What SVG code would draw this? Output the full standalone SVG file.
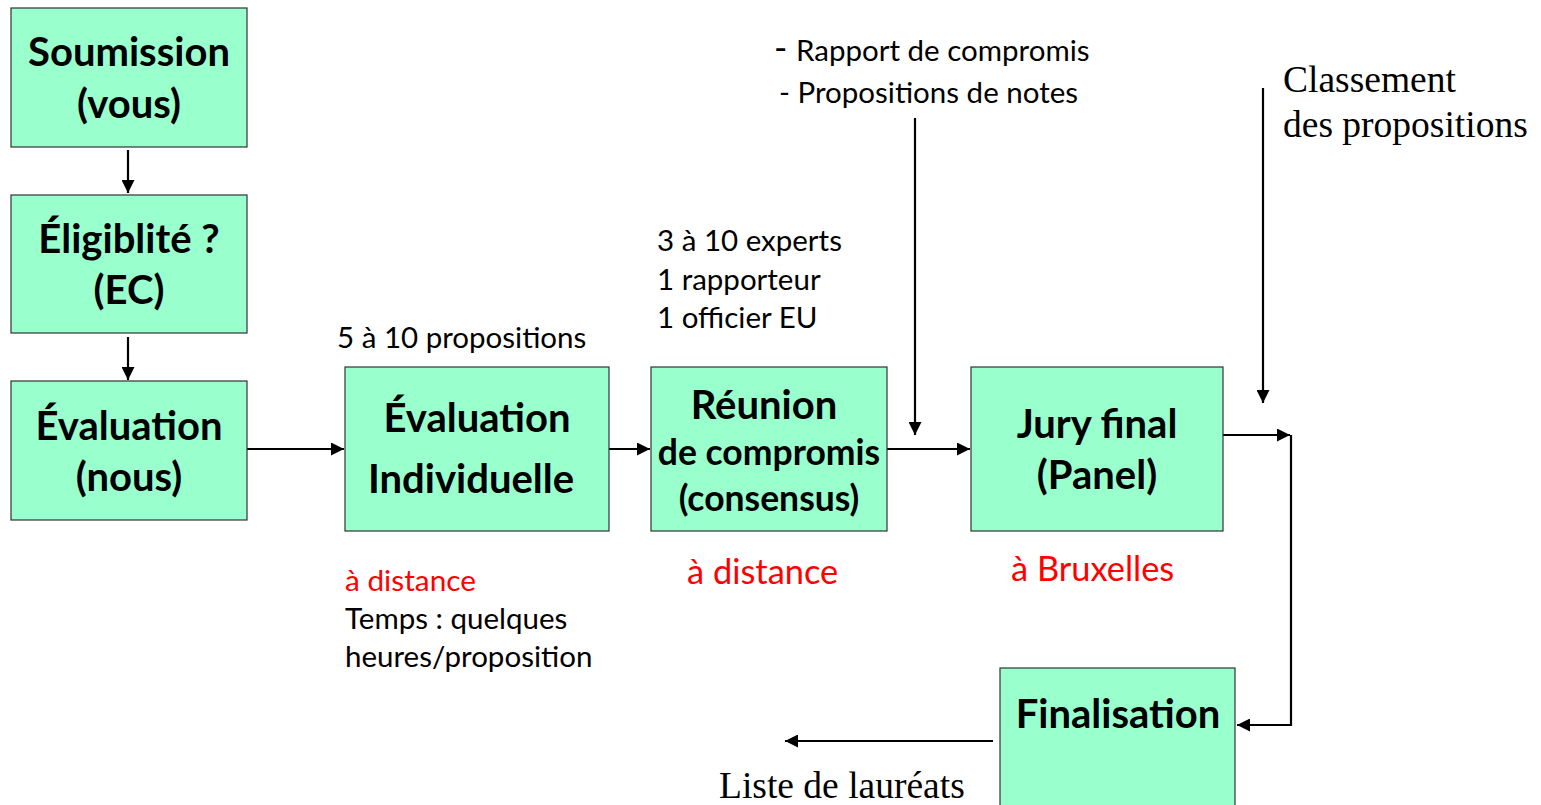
<svg xmlns="http://www.w3.org/2000/svg" width="1541" height="805" viewBox="0 0 1541 805">
<defs>
<style>
.box{fill:#99FFCC;stroke:#333;stroke-width:1.2}
.b{font-family:Lato,"Open Sans",sans-serif;font-weight:bold;fill:#000;text-anchor:middle}
.t{font-family:Lato,"Open Sans",sans-serif;fill:#000;font-size:29.5px}
.r{font-family:Lato,"Open Sans",sans-serif;fill:#FF0000}
.s{font-family:"Liberation Serif",serif;fill:#000;font-size:37.5px}
.c{stroke:#000;stroke-width:2.2;fill:none}
</style>
<marker id="ah" viewBox="0 0 10 10" refX="10" refY="5" markerWidth="13" markerHeight="13" markerUnits="userSpaceOnUse" orient="auto">
<path d="M0,0 L10,5 L0,10 z" fill="#000"/>
</marker>
</defs>
<rect width="1541" height="805" fill="#fff"/>

<g id="connectors">
<path class="c" d="M128,150 V193" marker-end="url(#ah)"/>
<path class="c" d="M128,337 V380" marker-end="url(#ah)"/>
<path class="c" d="M247,449 H344" marker-end="url(#ah)"/>
<path class="c" d="M609,449 H650" marker-end="url(#ah)"/>
<path class="c" d="M887,449 H970" marker-end="url(#ah)"/>
<path class="c" d="M915,118 V435" marker-end="url(#ah)"/>
<path class="c" d="M1263,88 V403" marker-end="url(#ah)"/>
<path class="c" d="M1223,435 H1290" marker-end="url(#ah)"/>
<path class="c" d="M1291,435 V725 H1237" marker-end="url(#ah)"/>
<path class="c" d="M993,741 H785" marker-end="url(#ah)"/>
</g>

<g id="soumission">
<rect class="box" x="11" y="8" width="236" height="139"/>
<text class="b" x="129" y="66" font-size="40">Soumission</text>
<text class="b" x="129" y="118" font-size="40">(vous)</text>
</g>
<g id="eligibilite">
<rect class="box" x="11" y="195" width="236" height="138"/>
<text class="b" x="129" y="253" font-size="40">Éligiblité ?</text>
<text class="b" x="129" y="304" font-size="40">(EC)</text>
</g>
<g id="evaluation-nous">
<rect class="box" x="11" y="381" width="236" height="139"/>
<text class="b" x="129" y="440" font-size="40">Évaluation</text>
<text class="b" x="129" y="491" font-size="40">(nous)</text>
</g>
<g id="evaluation-individuelle">
<rect class="box" x="345" y="367" width="264" height="164"/>
<text class="b" x="477" y="432" font-size="40">Évaluation</text>
<text class="b" x="471" y="493" font-size="40">Individuelle</text>
</g>
<g id="reunion">
<rect class="box" x="651" y="367" width="236" height="164"/>
<text class="b" x="764" y="419" font-size="40">Réunion</text>
<text class="b" x="769" y="465" font-size="35.5">de compromis</text>
<text class="b" x="769" y="511" font-size="35.5">(consensus)</text>
</g>
<g id="jury">
<rect class="box" x="971" y="367" width="252" height="164"/>
<text class="b" x="1097" y="438" font-size="40">Jury final</text>
<text class="b" x="1097" y="489" font-size="40">(Panel)</text>
</g>
<g id="finalisation">
<rect class="box" x="1000" y="668" width="235" height="140"/>
<text class="b" x="1118" y="728" font-size="40">Finalisation</text>
</g>

<g id="labels">
<text class="t" x="337" y="348">5 à 10 propositions</text>
<text class="t" x="657" y="251">3 à 10 experts</text>
<text class="t" x="657" y="290">1 rapporteur</text>
<text class="t" x="657" y="328">1 officier EU</text>
<text class="t" x="774" y="61"><tspan font-size="36">-</tspan><tspan x="796">Rapport de compromis</tspan></text>
<text class="t" x="779" y="103">- Propositions de notes</text>
<text class="s" x="1283" y="92">Classement</text>
<text class="s" x="1283" y="137">des propositions</text>
<text class="r" x="345" y="591" font-size="29.8">à distance</text>
<text class="t" x="345" y="629">Temps : quelques</text>
<text class="t" x="345" y="667">heures/proposition</text>
<text class="r" x="687" y="584" font-size="34.4">à distance</text>
<text class="r" x="1011" y="581" font-size="34.4">à Bruxelles</text>
<text class="s" x="719" y="798">Liste de lauréats</text>
</g>
</svg>
